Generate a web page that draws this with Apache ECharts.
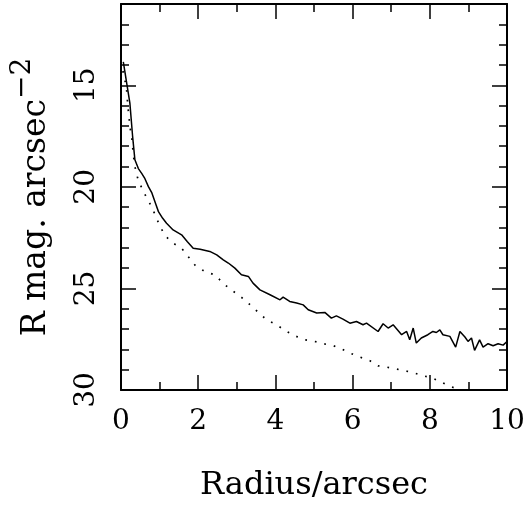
<!DOCTYPE html>
<html><head><meta charset="utf-8">
<script src="https://cdn.jsdelivr.net/npm/echarts@6/dist/echarts.min.js"></script>
<style>html,body{margin:0;padding:0;background:#fff}#c{width:532px;height:508px}</style>
</head><body><div id="c"></div>
<script>
// Solid profile
const solidR = [0.06,0.23,0.30,0.36,0.45,0.54,0.62,0.71,0.80,0.90,0.97,1.08,1.18,1.35,1.57,1.72,1.87,2.05,2.30,2.48,2.65,2.78,2.95,3.12,3.30,3.42,3.60,3.86,4.12,4.20,4.37,4.55,4.72,4.85,5.07,5.28,5.45,5.58,5.75,5.93,6.10,6.27,6.36,6.66,6.79,6.92,7.05,7.27,7.40,7.48,7.57,7.65,7.78,7.95,8.08,8.17,8.26,8.34,8.52,8.67,8.78,8.91,8.99,9.08,9.16,9.29,9.38,9.51,9.64,9.77,9.90,10.0];
const solidMag = [13.85,15.88,17.5,18.67,19.1,19.35,19.6,19.99,20.3,20.85,21.22,21.55,21.79,22.12,22.36,22.7,23.02,23.07,23.18,23.35,23.59,23.75,24.0,24.33,24.41,24.74,25.07,25.31,25.56,25.43,25.64,25.72,25.81,26.05,26.21,26.18,26.46,26.35,26.51,26.71,26.63,26.79,26.71,27.12,26.74,26.95,26.79,27.28,27.12,27.53,26.95,27.69,27.44,27.28,27.12,27.17,27.04,27.28,27.36,27.89,27.12,27.39,27.61,27.44,28.05,27.53,27.89,27.72,27.82,27.72,27.79,27.61];
// Dotted profile
const dotR = [0.05,0.10,0.15,0.17,0.23,0.28,0.32,0.36,0.43,0.54,0.67,0.79,0.91,1.01,1.16,1.35,1.57,1.74,1.92,2.17,2.43,2.63,2.82,3.04,3.25,3.42,3.60,3.77,4.03,4.25,4.50,4.76,5.02,5.24,5.50,5.67,5.93,6.19,6.45,6.66,6.88,7.14,7.35,7.61,7.83,8.08,8.26,8.52,8.73,9.0];
const dotMag = [14.3,14.74,15.31,15.87,17.04,17.59,18.43,19.0,19.56,20.07,20.56,20.97,21.49,21.95,22.44,22.77,23.02,23.43,23.86,24.17,24.33,24.71,25.03,25.31,25.64,25.94,26.25,26.54,26.79,27.07,27.33,27.53,27.61,27.72,27.82,27.94,28.18,28.38,28.56,28.81,28.87,28.97,29.05,29.17,29.30,29.42,29.58,29.82,29.95,30.2];
// Axis ticks / labels
const yMajorTicks = [15, 20, 25, 30];
const xLabelStep = 2;

const F = 'DejaVu Serif';
const K = '#000';
const chart = echarts.init(document.getElementById('c'), null, {renderer: 'canvas'});

function xAx(pos, labels) {
  return {
    type: 'value', min: 0, max: 10, interval: xLabelStep, position: pos,
    axisLine: {show: true, onZero: false, lineStyle: {color: K, width: 2}},
    axisTick: {show: true, inside: true, length: 15, lineStyle: {color: K, width: 1.5}},
    minorTick: {show: true, splitNumber: 2, length: 8, lineStyle: {color: K, width: 1.5}},
    axisLabel: {show: labels, margin: 18, fontFamily: F, fontSize: 28, color: K},
    splitLine: {show: false}, minorSplitLine: {show: false},
    name: labels ? 'Radius/arcsec' : '', nameLocation: 'middle', nameGap: 80,
    nameTextStyle: {fontFamily: F, fontSize: 32, color: K}
  };
}
function yMinor(pos, labels) {
  return {
    type: 'value', min: 11, max: 30, inverse: true, interval: 1, position: pos,
    axisLine: {show: true, onZero: false, lineStyle: {color: K, width: 2}},
    axisTick: {show: true, inside: true, length: 8, lineStyle: {color: K, width: 1.5}},
    axisLabel: {show: labels, rotate: 90, margin: 20, fontFamily: F, fontSize: 28, color: K,
      formatter: v => yMajorTicks.indexOf(v) >= 0 ? String(v) : ''},
    splitLine: {show: false},
    name: labels ? '{m|R mag. arcsec}{s|\u22122}' : '', nameLocation: 'middle', nameGap: 58,
    nameTextStyle: {fontFamily: F, fontSize: 33, color: K, rich: {
      m: {fontFamily: F, fontSize: 33, color: K},
      s: {fontFamily: F, fontSize: 28, color: K, padding: [0, 0, 26, 0]}
    }}
  };
}
function yMajor(pos) {
  return {
    type: 'value', min: 11, max: 30, inverse: true, position: pos,
    axisLine: {show: false, onZero: false},
    axisTick: {show: true, inside: true, length: 15, customValues: yMajorTicks, lineStyle: {color: K, width: 1.5}},
    axisLabel: {show: false}, splitLine: {show: false}
  };
}

chart.setOption({
  animation: false,
  backgroundColor: '#fff',
  grid: {left: 121, right: 25, top: 4, bottom: 118, containLabel: false, outerBoundsMode: 'none'},
  xAxis: [xAx('bottom', true), xAx('top', false)],
  yAxis: [yMinor('left', true), yMajor('left'), yMinor('right', false), yMajor('right')],
  series: [
    {type: 'line', xAxisIndex: 0, yAxisIndex: 0, symbol: 'none', clip: true,
     lineStyle: {color: K, width: 1.5},
     data: solidR.map((r, i) => [r, solidMag[i]])},
    {type: 'line', xAxisIndex: 0, yAxisIndex: 0, symbol: 'none', clip: true,
     lineStyle: {color: K, width: 1.7, type: [1.7, 8]},
     data: dotR.map((r, i) => [r, dotMag[i]])}
  ]
});
</script></body></html>
